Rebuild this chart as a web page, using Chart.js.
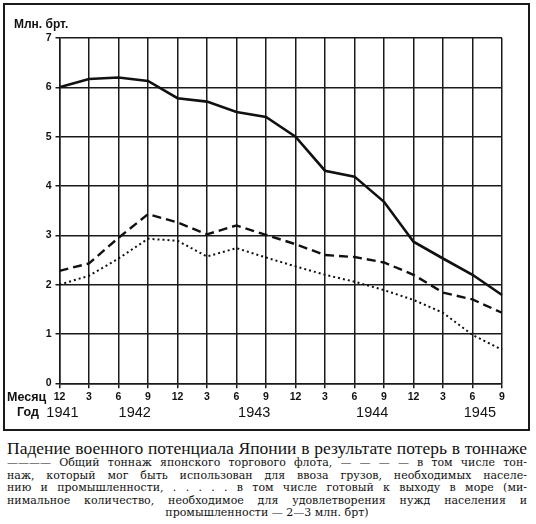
<!DOCTYPE html>
<html>
<head>
<meta charset="utf-8">
<script src="https://cdn.jsdelivr.net/npm/chart.js@4"></script>
<style>
  body { margin: 0; background: #fff; }
  #page { position: relative; width: 536px; height: 524px; overflow: hidden; background: #fff; }
  #frame { position: absolute; left: 3px; top: 3px; width: 523px; height: 424px; border: 2px solid #1a1a1a; }
  #box { position: absolute; left: 0; top: 0; width: 536px; height: 432px; }
  #cap { position: absolute; left: 7px; top: 440px; width: 520px; font-family: "DejaVu Serif", serif; color: #111; }
  #cap .title { font-family: "Liberation Serif", "DejaVu Serif", serif; font-size: 17.5px; line-height: 17px; text-align: justify; text-align-last: justify; }
  #cap .l { font-size: 11px; line-height: 12.5px; text-align: justify; text-align-last: justify; }
  #cap .c { font-size: 11px; line-height: 12.5px; text-align: center; }
</style>
</head>
<body>
<div id="page">
  <div id="frame"></div>
  <div id="box"><canvas id="myChart"></canvas></div>
  <div id="cap">
    <div class="title">Падение военного потенциала Японии в результате потерь в тоннаже</div>
    <div class="l">———— Общий тоннаж японского торгового флота, — — — — в том числе тон-</div>
    <div class="l">наж, который мог быть использован для ввоза грузов, необходимых населе-</div>
    <div class="l">нию и промышленности, . . . . . в том числе готовый к выходу в море (ми-</div>
    <div class="l">нимальное количество, необходимое для удовлетворения нужд населения и</div>
    <div class="c">промышленности — 2—3 млн. брт)</div>
  </div>
</div>
<script>
const months = ["12", "3", "6", "9", "12", "3", "6", "9", "12", "3", "6", "9", "12", "3", "6", "9"];
const totalTonnage = [6.0, 6.17, 6.2, 6.13, 5.78, 5.71, 5.5, 5.4, 5.0, 4.31, 4.19, 3.68, 2.87, 2.53, 2.2, 1.79];
const importTonnage = [2.28, 2.43, 2.95, 3.43, 3.26, 3.02, 3.2, 3.01, 2.82, 2.6, 2.56, 2.45, 2.2, 1.84, 1.7, 1.43];
const readyTonnage = [2.0, 2.18, 2.53, 2.93, 2.89, 2.57, 2.74, 2.55, 2.37, 2.2, 2.06, 1.89, 1.69, 1.43, 0.98, 0.68];
const years = ["1941", "1942", "1943", "1944", "1945"];
const yearAt = [0.1, 2.55, 6.6, 10.6, 14.25];
const yTicks = [0, 1, 2, 3, 4, 5, 6, 7];

const ink = "#111";
const sans = "'Liberation Sans', Arial, sans-serif";

// подписи вне осей: единицы, "Месяц", "Год" и годы
const extraText = {
  id: "extraText",
  afterDraw(chart) {
    const ctx = chart.ctx;
    const xs = chart.scales.x;
    ctx.save();
    ctx.fillStyle = ink;
    ctx.textBaseline = "middle";
    ctx.textAlign = "left";
    ctx.font = "bold 12px " + sans;
    ctx.fillText("Млн. брт.", 14, 25);
    ctx.font = "bold 12.5px " + sans;
    ctx.fillText("Месяц", 7, 398);
    ctx.fillText("Год", 17, 413);
    ctx.font = "14.5px " + sans;
    ctx.textAlign = "center";
    years.forEach((y, i) => {
      ctx.fillText(y, xs.getPixelForValue(yearAt[i]), 413);
    });
    ctx.restore();
  }
};

const datos = {
  labels: months,
  datasets: [
    { label: "Общий тоннаж", data: totalTonnage, borderColor: ink, borderWidth: 2.6 },
    { label: "Для ввоза грузов", data: importTonnage, borderColor: ink, borderWidth: 2.4, borderDash: [9, 5] },
    { label: "Готовый к выходу в море", data: readyTonnage, borderColor: ink, borderWidth: 2, borderDash: [2, 3] }
  ]
};

const config = {
  type: "line",
  data: datos,
  options: {
    responsive: true,
    maintainAspectRatio: false,
    animation: false,
    layout: { padding: { top: 38, right: 34, left: 0, bottom: 0 } },
    elements: { point: { radius: 0 }, line: { tension: 0, fill: false } },
    plugins: { legend: { display: false }, tooltip: { enabled: false } },
    scales: {
      x: {
        offset: false,
        grid: { color: "#1a1a1a", lineWidth: 1.5, tickLength: 5, tickColor: "#1a1a1a" },
        border: { color: "#1a1a1a", width: 1.5 },
        ticks: { color: ink, font: { family: sans, size: 10.5, weight: "bold" }, padding: 3, maxRotation: 0, autoSkip: false },
        afterFit: (scale) => { scale.height = 48.7; }
      },
      y: {
        min: 0,
        max: 7,
        afterBuildTicks: (scale) => { scale.ticks = yTicks.map((v) => ({ value: v })); },
        grid: { color: "#1a1a1a", lineWidth: 1.5, tickLength: 4, tickColor: "#1a1a1a" },
        border: { color: "#1a1a1a", width: 1.5 },
        ticks: { color: ink, font: { family: sans, size: 10.5, weight: "bold" }, padding: 4 },
        afterFit: (scale) => { scale.width = 59.5; }
      }
    }
  },
  plugins: [extraText]
};

const canvas = document.getElementById("myChart");
const myChart = new Chart(canvas, config);
</script>
</body>
</html>
